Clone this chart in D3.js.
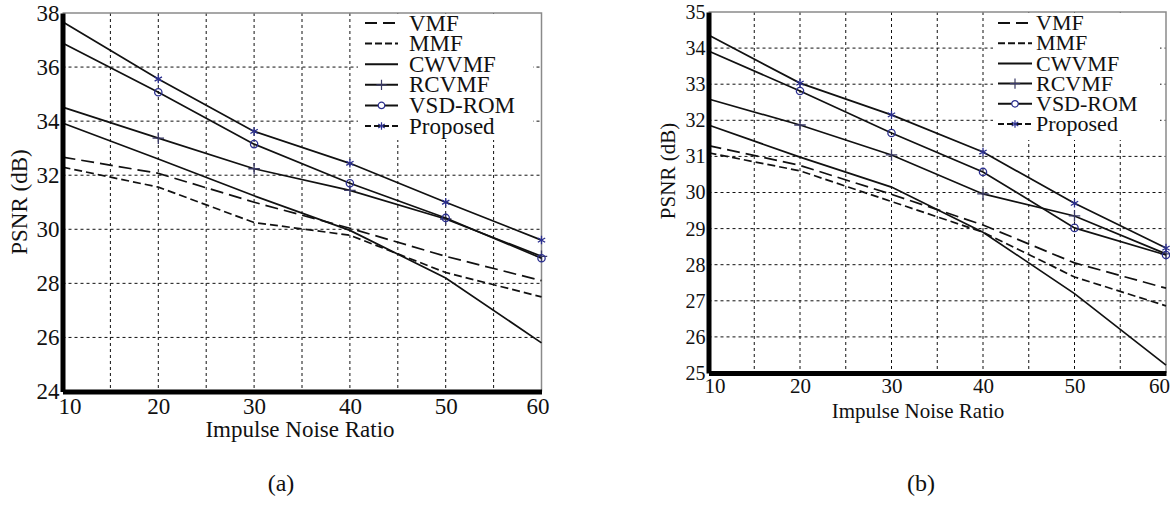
<!DOCTYPE html>
<html><head><meta charset="utf-8">
<script src="https://cdnjs.cloudflare.com/ajax/libs/d3/7.8.5/d3.min.js"></script>
<style>
body{margin:0;background:#fff;}
svg{display:block;}
</style></head><body>
<svg id="c" width="1170" height="506"></svg>
<script>
// ---------------- data ----------------
const noiseRatio = [10, 20, 30, 40, 50, 60];
const seriesNames = ["VMF", "MMF", "CWVMF", "RCVMF", "VSD-ROM", "Proposed"];

// panel (a)
const aVMF      = [32.67, 32.07, 31.00, 30.04, 29.00, 28.10];
const aMMF      = [32.30, 31.56, 30.25, 29.78, 28.40, 27.50];
const aCWVMF    = [33.93, 32.60, 31.24, 29.96, 28.20, 25.80];
const aRCVMF    = [34.52, 33.37, 32.24, 31.44, 30.38, 29.00];
const aVSDROM   = [36.89, 35.07, 33.15, 31.70, 30.42, 28.93];
const aProposed = [37.68, 35.56, 33.62, 32.44, 31.00, 29.60];

// panel (b)
const bVMF      = [31.30, 30.75, 29.95, 29.10, 28.05, 27.35];
const bMMF      = [31.10, 30.60, 29.75, 28.90, 27.66, 26.86];
const bCWVMF    = [31.87, 30.98, 30.15, 28.90, 27.20, 25.22];
const bRCVMF    = [32.59, 31.87, 31.04, 29.96, 29.35, 28.30];
const bVSDROM   = [33.92, 32.81, 31.65, 30.57, 29.02, 28.27];
const bProposed = [34.36, 33.03, 32.15, 31.12, 29.70, 28.46];

const aYTicks = [24, 26, 28, 30, 32, 34, 36, 38];
const bYTicks = [25, 26, 27, 28, 29, 30, 31, 32, 33, 34, 35];
const xTicks = [10, 20, 30, 40, 50, 60];
const xGrid = [15, 20, 25, 30, 35, 40, 45, 50, 55];
const xTitle = "Impulse Noise Ratio";
const yTitle = "PSNR (dB)";
const captions = ["(a)", "(b)"];

// ---------------- styles ----------------
const FONT = "'Liberation Serif', 'Times New Roman', Times, serif";
const MARK = "#2b2f8f";
const style = {
  "VMF":      {dash: "13,6", legDash: "12,6", marker: null},
  "MMF":      {dash: "8,4",  legDash: "7,3",  marker: null},
  "CWVMF":    {dash: null,   legDash: null,   marker: null},
  "RCVMF":    {dash: null,   legDash: null,   marker: d3.symbolPlus, mcol: "#3a3a66", msize: 45},
  "VSD-ROM":  {dash: null,   legDash: null,   marker: d3.symbolCircle, mcol: MARK, msize: 42},
  "Proposed": {dash: null,   legDash: "6,3",  marker: d3.symbolAsterisk, mcol: MARK, msize: 50}
};

const svg = d3.select("#c");

function txt(sel) {
  return sel.attr("font-family", FONT).style("font-family", FONT).attr("fill", "#111");
}

function panel(o) {
  const g = svg.append("g");
  const x = d3.scaleLinear().domain([10, 60]).range([o.x0, o.x1]);
  const y = d3.scaleLinear().domain([o.yTicks[0], o.yTicks[o.yTicks.length - 1]]).range([o.yB, o.yT]);

  // grid
  g.append("g").selectAll("line").data(xGrid).join("line")
    .attr("x1", d => x(d)).attr("x2", d => x(d)).attr("y1", o.yT).attr("y2", o.yB)
    .attr("stroke", "#111").attr("stroke-width", 1).attr("stroke-dasharray", "3,3");
  g.append("g").selectAll("line").data(o.yTicks.slice(1, -1)).join("line")
    .attr("x1", o.x0).attr("x2", o.x1).attr("y1", d => y(d)).attr("y2", d => y(d))
    .attr("stroke", "#111").attr("stroke-width", 1).attr("stroke-dasharray", "3,3");

  // top & right border
  g.append("path")
    .attr("d", `M${o.x0},${o.yT}H${o.x1}V${o.yB}`)
    .attr("fill", "none").attr("stroke", "#8a8a8a").attr("stroke-width", 1.5);

  // legend background
  g.append("rect").attr("x", o.leg.bx0).attr("y", o.yT + 1)
    .attr("width", o.leg.bx1 - o.leg.bx0).attr("height", o.leg.by1 - o.yT - 1)
    .attr("fill", "#fff");

  // series
  const line = d3.line().x((d, i) => x(noiseRatio[i])).y(d => y(d));
  seriesNames.forEach((name, k) => {
    const vals = o.series[k];
    const s = style[name];
    g.append("path").attr("d", line(vals))
      .attr("fill", "none").attr("stroke", "#111").attr("stroke-width", 1.7)
      .attr("stroke-dasharray", s.dash);
    if (s.marker) {
      const sym = d3.symbol().type(s.marker).size(s.msize);
      g.append("g").selectAll("path").data(vals.slice(1)).join("path")
        .attr("transform", (d, i) => `translate(${x(noiseRatio[i + 1])},${y(d)})`)
        .attr("d", sym()).attr("fill", "none")
        .attr("stroke", s.mcol).attr("stroke-width", 1.3);
    }
  });

  // legend entries
  seriesNames.forEach((name, k) => {
    const s = style[name];
    const yy = o.leg.y0 + k * o.leg.step;
    g.append("line").attr("x1", o.leg.lx0).attr("x2", o.leg.lx1).attr("y1", yy).attr("y2", yy)
      .attr("stroke", "#111").attr("stroke-width", 2).attr("stroke-dasharray", s.legDash);
    if (s.marker) {
      g.append("path").attr("transform", `translate(${(o.leg.lx0 + o.leg.lx1) / 2},${yy})`)
        .attr("d", d3.symbol().type(s.marker).size(s.msize * 0.8)()).attr("fill", "#fff")
        .attr("stroke", s.mcol).attr("stroke-width", 1.2);
    }
    txt(g.append("text")).attr("x", o.leg.tx).attr("y", yy).attr("dy", "0.33em")
      .attr("font-size", o.leg.fs).text(name);
  });

  // axes
  const ax = g.append("g").attr("transform", `translate(${o.x0},0)`)
    .call(d3.axisLeft(y).tickValues(o.yTicks).tickSize(0).tickPadding(3).tickFormat(d3.format("d")));
  ax.attr("font-family", FONT);
  ax.select(".domain").attr("stroke", "#000").attr("stroke-width", 5);
  txt(ax.selectAll("text")).attr("font-size", o.yfs);

  const bx = g.append("g").attr("transform", `translate(0,${o.yB})`)
    .call(d3.axisBottom(x).tickValues(xTicks).tickSize(0).tickPadding(o.xpad).tickFormat(d3.format("d")));
  bx.attr("font-family", FONT);
  bx.select(".domain").attr("stroke", "#000").attr("stroke-width", 5);
  txt(bx.selectAll("text")).attr("font-size", o.xfs)
    .attr("dx", d => d === 10 ? o.firstDx : (d === 60 ? o.lastDx : 0));

  // titles
  txt(g.append("text")).attr("x", o.xtX).attr("y", o.xtY).attr("text-anchor", "middle")
    .attr("font-size", o.tfs).text(xTitle);
  txt(g.append("text")).attr("transform", `translate(${o.ytX},${o.ytY}) rotate(-90)`)
    .attr("text-anchor", "middle").attr("font-size", o.tfs).text(yTitle);
  txt(g.append("text")).attr("x", o.capX).attr("y", 491).attr("text-anchor", "middle")
    .attr("font-size", 24).text(o.caption);
}

panel({
  x0: 62.5, x1: 541.5, yT: 13, yB: 391.5,
  yTicks: aYTicks,
  series: [aVMF, aMMF, aCWVMF, aRCVMF, aVSDROM, aProposed],
  leg: {bx0: 358, bx1: 533, by1: 140, y0: 23, step: 20.6, lx0: 365, lx1: 398, tx: 409, fs: 23},
  yfs: 23, xfs: 23, xpad: 6, firstDx: 7, lastDx: -4,
  tfs: 23, xtX: 300, xtY: 437, ytX: 27, ytY: 202, capX: 281, caption: captions[0]
});

panel({
  x0: 708.5, x1: 1166, yT: 12, yB: 373,
  yTicks: bYTicks,
  series: [bVMF, bMMF, bCWVMF, bRCVMF, bVSDROM, bProposed],
  leg: {bx0: 993, bx1: 1160, by1: 140, y0: 23, step: 20.2, lx0: 998, lx1: 1032, tx: 1036, fs: 22},
  yfs: 20, xfs: 21, xpad: 5, firstDx: 6, lastDx: -7,
  tfs: 21, xtX: 918, xtY: 418, ytX: 675, ytY: 171, capX: 921, caption: captions[1]
});
</script>
</body></html>
